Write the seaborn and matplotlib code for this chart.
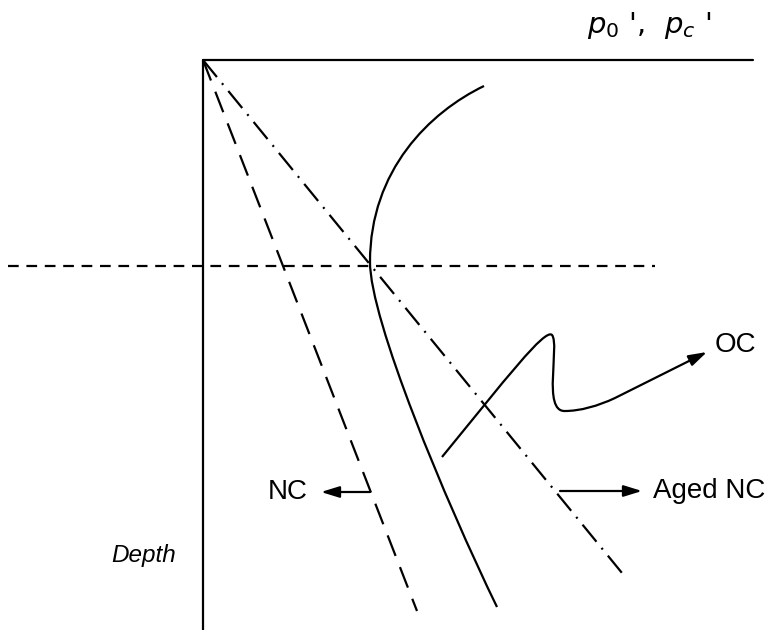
import matplotlib
matplotlib.use("Agg")
import matplotlib.pyplot as plt
import seaborn as sns
import pandas as pd
from matplotlib.path import Path
from matplotlib.patches import PathPatch

sns.set_theme(style="white")
plt.rcParams["font.family"] = ["Liberation Sans", "DejaVu Sans"]
plt.rcParams["mathtext.fontset"] = "dejavusans"
plt.rcParams["lines.scale_dashes"] = False
plt.rcParams["text.color"] = "black"

# Effective stress (x, to the right) against depth (y, downward); origin at ground surface
axis_stress = [0.0, 5.50]
axis_depth = [0.0, 5.70]

# Normally consolidated line and aged NC line (straight from the origin)
nc_stress = [0.0, 2.14]
nc_depth = [0.0, 5.51]
aged_stress = [0.0, 4.19]
aged_depth = [0.0, 5.13]

# Reference depth (horizontal dashed line)
ref_depth = 2.06
ref_stress = [-1.95, 4.52]

# Preconsolidation profile (cubic Bezier control points)
pc_stress = [2.81, 2.27, 1.67, 1.67, 1.67, 2.42, 2.94]
pc_depth = [0.26, 0.52, 1.10, 2.02, 2.60, 4.40, 5.47]

# Over-consolidation pointer (cubic Bezier control points) and its arrow end
oc_stress = [2.39, 3.02, 3.42, 3.49, 3.57, 3.39, 3.62, 3.77, 3.95, 4.12]
oc_depth = [3.97, 3.20, 2.68, 2.75, 2.85, 3.52, 3.51, 3.51, 3.46, 3.38]
oc_tip = (5.04, 2.92)

# Label arrows
nc_arrow = ((1.67, 4.32), (1.18, 4.32))
aged_arrow = ((3.57, 4.31), (4.39, 4.31))

fig = plt.figure(figsize=(7.74, 6.30), dpi=100)
ax = fig.add_axes([0, 0, 1, 1])
ax.set_xlim(-2.03, 5.71)
ax.set_ylim(5.70, -0.60)
ax.axis("off")

lw = 1.6
k = 0.72  # px -> pt at 100 dpi

def line(xs, ys, ls="-"):
    df = pd.DataFrame({"x": xs, "y": ys})
    sns.lineplot(data=df, x="x", y="y", sort=False, estimator=None, ax=ax,
                 color="black", linewidth=lw, linestyle=ls)

# Axes of the diagram
line(axis_stress, [0, 0])
line([0, 0], axis_depth)

# NC and aged NC lines
line(nc_stress, nc_depth, ls=(0, (22 * k, 12 * k)))
line(aged_stress, aged_depth, ls=(0, (22 * k, 8 * k, 2 * k, 8 * k)))

# Horizontal reference
line(ref_stress, [ref_depth, ref_depth], ls=(0, (10.7 * k, 7.7 * k)))

def bezier(xs, ys):
    verts = list(zip(xs, ys))
    codes = [Path.MOVETO] + [Path.CURVE4] * (len(verts) - 1)
    ax.add_patch(PathPatch(Path(verts, codes), facecolor="none",
                           edgecolor="black", linewidth=lw))

bezier(pc_stress, pc_depth)
bezier(oc_stress, oc_depth)

arrow_style = dict(arrowstyle="-|>,head_length=1.1,head_width=0.34",
                   mutation_scale=10, color="black", linewidth=lw,
                   shrinkA=0, shrinkB=0)
ax.annotate("", xy=oc_tip, xytext=(oc_stress[-1], oc_depth[-1]), arrowprops=arrow_style)
ax.annotate("", xy=nc_arrow[1], xytext=nc_arrow[0], arrowprops=arrow_style)
ax.annotate("", xy=aged_arrow[1], xytext=aged_arrow[0], arrowprops=arrow_style)

# Labels
ax.text(1.05, 4.32, "NC", fontsize=20, ha="right", va="center")
ax.text(4.50, 4.31, "Aged NC", fontsize=20, ha="left", va="center")
ax.text(5.12, 2.85, "OC", fontsize=20, ha="left", va="center")
ax.text(-0.59, 5.02, "Depth", fontsize=17.5, style="italic", ha="center", va="baseline")
ax.text(3.84, -0.27, r"$p_0$ ',  $p_c$ '", fontsize=21, ha="left", va="baseline",
        family=["DejaVu Sans"])

fig.savefig("out.png", dpi=100)
